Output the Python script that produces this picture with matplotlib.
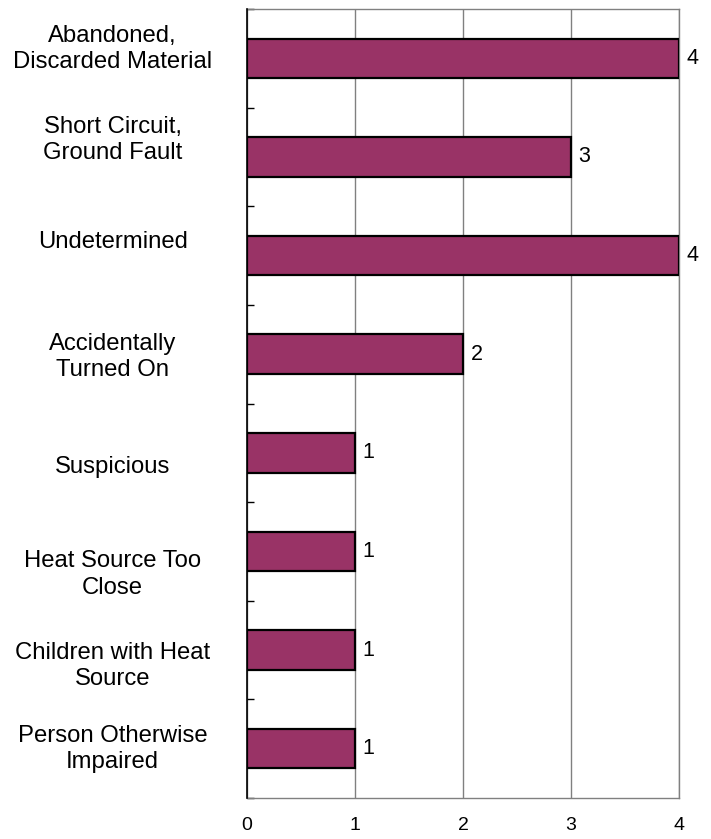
import numpy as np
import matplotlib.pyplot as plt

plt.rcParams['font.family'] = ['Liberation Sans', 'DejaVu Sans']

causes = ['Abandoned,\nDiscarded Material', 'Short Circuit,\nGround Fault', 'Undetermined',
          'Accidentally\nTurned On', 'Suspicious', 'Heat Source Too\nClose',
          'Children with Heat\nSource', 'Person Otherwise\nImpaired']
counts = [4, 3, 4, 2, 1, 1, 1, 1]
x_ticks = [0, 1, 2, 3, 4]

# label shift from bar centre, in pixels (down is positive), as in the original
label_shift_px = [-9, -17, -14, 3, 14, 23, 16, 0]

fig = plt.figure(figsize=(7.11, 8.39), dpi=100)
ax = fig.add_axes([247 / 711, 1 - 798 / 839, 432 / 711, 789 / 839])

y = np.arange(len(causes))
ax.barh(y, counts, height=0.4, color='#993366', edgecolor='black', linewidth=1.6, zorder=3)

for yi, c in zip(y, counts):
    ax.annotate(str(c), (c, yi), xytext=(5.5, 0), textcoords='offset points',
                va='center', ha='left', fontsize=15.5)

for yi, lab, dy in zip(y, causes, label_shift_px):
    ax.annotate(lab, (-0.311, yi), xycoords=ax.get_yaxis_transform(),
                xytext=(0, -dy * 0.72), textcoords='offset points',
                ha='center', va='center', fontsize=17.2, linespacing=1.25)

ax.set_xlim(0, 4)
ax.set_ylim(len(causes) - 0.5, -0.5)
ax.set_xticks(x_ticks)
ax.set_xticklabels([str(t) for t in x_ticks], fontsize=14)
ax.tick_params(axis='x', length=0, pad=14)
ax.set_yticks([])
ax.set_yticks(np.arange(len(causes) + 1) - 0.5, minor=True)
ax.tick_params(axis='y', which='minor', direction='in', length=5, width=1, color='black')

ax.grid(axis='x', color='#808080', linewidth=1, zorder=0)
for s in ['top', 'right', 'bottom']:
    ax.spines[s].set_color('#808080')
    ax.spines[s].set_linewidth(1)
ax.spines['left'].set_color('black')
ax.spines['left'].set_linewidth(1.2)
ax.spines['left'].set_zorder(4)

plt.savefig('out.png', dpi=100)
